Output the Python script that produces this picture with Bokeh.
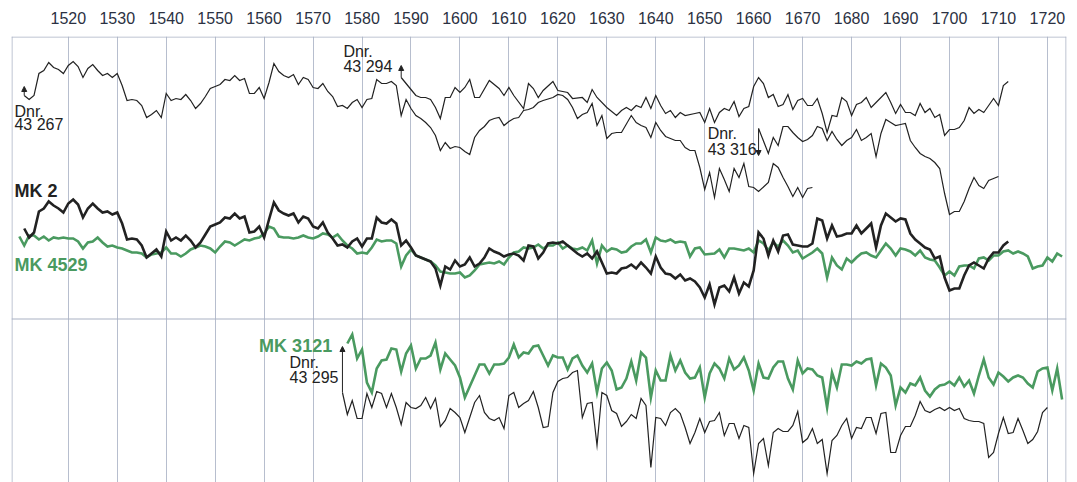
from bokeh.plotting import figure
from bokeh.models import Range1d, FixedTicker, Span, Label, Arrow, NormalHead
from bokeh.embed import file_html
from bokeh.resources import INLINE

# ------------------------------------------------------------------
# Data: (year, plotted value); the chart has no
# value axis, values are in chart units, increasing downward.
# ------------------------------------------------------------------
tick_years = list(range(1520, 1721, 10))

dnr_43267 = [
    (1511, 95), (1512, 99), (1513, 95), (1514, 73), (1515, 70), (1516, 62), (1517, 67), (1518, 69),
    (1519, 73), (1520, 65), (1521, 61), (1522, 66), (1523, 77), (1524, 68), (1525, 64), (1526, 70),
    (1527, 75), (1528, 73), (1529, 77), (1530, 73), (1531, 85), (1532, 100), (1533, 99), (1534, 100),
    (1535, 105), (1536, 117), (1537, 114), (1538, 110), (1539, 117), (1540, 93), (1541, 100), (1542, 98),
    (1543, 99), (1544, 94), (1545, 100), (1546, 108), (1547, 103), (1548, 96), (1549, 88), (1550, 86),
    (1551, 84), (1552, 79), (1553, 80), (1554, 75), (1555, 80), (1556, 78), (1557, 93), (1558, 93),
    (1559, 87), (1560, 98), (1561, 82), (1562, 63), (1563, 71), (1564, 75), (1565, 77), (1566, 74),
    (1567, 84), (1568, 77), (1569, 79), (1570, 87), (1571, 88), (1572, 83), (1573, 91), (1574, 96),
    (1575, 106), (1576, 105), (1577, 108), (1578, 102), (1579, 99), (1580, 107), (1581, 99), (1582, 98),
    (1583, 79), (1584, 83), (1585, 83), (1586, 81), (1587, 85), (1588, 115), (1589, 99), (1590, 108),
    (1591, 115), (1592, 118), (1593, 122), (1594, 127), (1595, 135), (1596, 150), (1597, 142), (1598, 148),
    (1599, 146), (1600, 147), (1601, 151), (1602, 154), (1603, 137), (1604, 130), (1605, 126), (1606, 120),
    (1607, 118), (1608, 117), (1609, 125), (1610, 121), (1611, 118), (1612, 117), (1613, 110), (1614, 109),
    (1615, 107), (1616, 102), (1617, 100), (1619, 97), (1620, 94), (1621, 95), (1622, 99), (1623, 107),
    (1624, 118), (1625, 114), (1626, 112), (1627, 103), (1628, 125), (1629, 115), (1630, 138), (1631, 133),
    (1632, 132), (1633, 132), (1635, 115), (1636, 122), (1637, 125), (1638, 127), (1639, 137), (1640, 122),
    (1641, 130), (1642, 136), (1643, 138), (1644, 140), (1645, 140), (1646, 147), (1647, 150), (1648, 150),
    (1649, 167), (1650, 189), (1651, 172), (1652, 197), (1653, 168), (1654, 179), (1655, 191), (1656, 168),
    (1657, 177), (1658, 163), (1659, 186), (1660, 187), (1661, 191), (1663, 182), (1664, 163), (1665, 167),
    (1666, 177), (1667, 186), (1668, 196), (1669, 187), (1670, 197), (1671, 188), (1672, 187),
]

dnr_43294 = [
    (1588, 77), (1590, 89), (1591, 95), (1592, 97), (1593, 97), (1594, 99), (1595, 107), (1596, 118),
    (1597, 97), (1598, 97), (1599, 87), (1600, 92), (1601, 87), (1602, 79), (1603, 97), (1604, 97),
    (1606, 80), (1608, 88), (1609, 95), (1610, 87), (1611, 95), (1613, 108), (1614, 83), (1615, 88),
    (1616, 97), (1617, 90), (1619, 81), (1620, 90), (1622, 92), (1623, 98), (1625, 97), (1626, 102),
    (1627, 89), (1628, 97), (1630, 107), (1632, 115), (1633, 110), (1634, 107), (1635, 110), (1636, 105),
    (1637, 107), (1638, 97), (1639, 108), (1640, 95), (1641, 105), (1642, 113), (1643, 110), (1644, 117),
    (1645, 112), (1646, 115), (1648, 113), (1649, 112), (1650, 122), (1651, 108), (1652, 122), (1653, 112),
    (1654, 108), (1655, 110), (1656, 101), (1657, 116), (1658, 108), (1659, 106), (1660, 86), (1661, 77),
    (1662, 83), (1663, 97), (1664, 94), (1665, 106), (1666, 104), (1667, 94), (1668, 109), (1669, 100),
    (1670, 98), (1671, 105), (1672, 105), (1673, 98), (1674, 113), (1675, 132), (1676, 115), (1677, 116),
    (1678, 97), (1679, 101), (1680, 115), (1681, 104), (1682, 102), (1683, 97), (1684, 107), (1685, 102),
    (1687, 92), (1688, 102), (1689, 113), (1690, 104), (1691, 112), (1692, 112), (1693, 115), (1694, 103),
    (1695, 112), (1696, 108), (1697, 117), (1698, 114), (1699, 135), (1700, 129), (1701, 129), (1702, 127),
    (1703, 120), (1704, 107), (1705, 113), (1706, 109), (1707, 112), (1708, 105), (1709, 98), (1710, 105),
    (1711, 85), (1712, 81),
]

dnr_43316 = [
    (1661, 128), (1663, 153), (1664, 137), (1665, 145), (1666, 126), (1667, 126), (1668, 132), (1669, 137),
    (1670, 141), (1671, 139), (1672, 135), (1673, 126), (1674, 128), (1675, 140), (1676, 131), (1677, 139),
    (1678, 145), (1679, 140), (1680, 137), (1681, 129), (1682, 140), (1683, 137), (1684, 133), (1685, 156),
    (1686, 133), (1687, 119), (1688, 122), (1689, 125), (1690, 124), (1691, 123), (1692, 140), (1693, 147),
    (1694, 153), (1695, 156), (1696, 158), (1697, 162), (1698, 168), (1699, 193), (1700, 214), (1701, 211),
    (1702, 211), (1703, 201), (1704, 188), (1705, 177), (1706, 185), (1707, 188), (1708, 180), (1709, 178),
    (1710, 176),
]

mk_2 = [
    (1511, 228), (1512, 237), (1513, 232), (1514, 211), (1515, 208), (1516, 201), (1517, 205), (1518, 208),
    (1519, 212), (1520, 203), (1521, 199), (1522, 204), (1523, 217), (1524, 208), (1525, 203), (1526, 208),
    (1527, 212), (1528, 211), (1529, 214), (1530, 212), (1531, 223), (1532, 239), (1533, 238), (1534, 239),
    (1535, 245), (1536, 257), (1537, 253), (1538, 249), (1539, 256), (1540, 231), (1541, 240), (1542, 237),
    (1543, 240), (1544, 235), (1545, 240), (1546, 247), (1547, 242), (1548, 234), (1549, 226), (1550, 224),
    (1551, 222), (1552, 217), (1553, 218), (1554, 213), (1555, 218), (1556, 216), (1557, 232), (1558, 231),
    (1559, 226), (1560, 237), (1561, 219), (1562, 202), (1563, 210), (1564, 213), (1565, 215), (1566, 213),
    (1567, 222), (1568, 216), (1569, 218), (1570, 226), (1571, 228), (1572, 222), (1573, 232), (1574, 238),
    (1575, 245), (1576, 244), (1577, 247), (1578, 241), (1579, 238), (1580, 246), (1581, 238), (1582, 238),
    (1583, 217), (1584, 222), (1585, 223), (1586, 219), (1587, 223), (1588, 245), (1589, 240), (1590, 247),
    (1591, 255), (1592, 257), (1593, 259), (1594, 261), (1595, 268), (1596, 285), (1597, 266), (1598, 269),
    (1599, 260), (1600, 266), (1601, 264), (1602, 257), (1603, 266), (1604, 263), (1605, 257), (1606, 248),
    (1607, 251), (1608, 253), (1609, 256), (1610, 254), (1611, 253), (1612, 255), (1613, 260), (1614, 245),
    (1615, 246), (1616, 258), (1617, 252), (1618, 243), (1619, 242), (1620, 243), (1621, 241), (1622, 245),
    (1623, 249), (1624, 253), (1625, 256), (1626, 253), (1627, 258), (1628, 251), (1629, 262), (1630, 273),
    (1631, 272), (1632, 273), (1633, 268), (1634, 267), (1635, 264), (1636, 268), (1637, 262), (1638, 267),
    (1639, 273), (1640, 256), (1641, 267), (1642, 273), (1643, 274), (1644, 278), (1645, 274), (1646, 280),
    (1647, 278), (1648, 281), (1649, 287), (1650, 297), (1651, 284), (1652, 304), (1653, 287), (1654, 285),
    (1655, 291), (1656, 277), (1657, 293), (1658, 282), (1659, 286), (1660, 270), (1661, 232), (1662, 238),
    (1663, 255), (1664, 240), (1665, 251), (1666, 235), (1667, 234), (1668, 244), (1669, 245), (1670, 246),
    (1671, 246), (1672, 243), (1673, 218), (1674, 220), (1675, 238), (1676, 225), (1677, 236), (1678, 235),
    (1679, 233), (1680, 233), (1681, 225), (1682, 233), (1683, 228), (1684, 223), (1685, 247), (1686, 225),
    (1687, 213), (1688, 217), (1689, 221), (1690, 218), (1691, 219), (1692, 233), (1693, 239), (1694, 243),
    (1695, 247), (1696, 249), (1697, 258), (1698, 256), (1699, 277), (1700, 290), (1701, 288), (1702, 288),
    (1703, 275), (1704, 265), (1705, 262), (1706, 265), (1707, 268), (1708, 258), (1709, 252), (1710, 252),
    (1711, 245), (1712, 241),
]

mk_4529 = [
    (1510, 236), (1511, 245), (1512, 235), (1513, 235), (1514, 239), (1515, 236), (1516, 240), (1517, 237),
    (1518, 238), (1519, 237), (1520, 238), (1521, 238), (1522, 241), (1523, 248), (1524, 242), (1525, 241),
    (1526, 237), (1527, 242), (1528, 246), (1529, 245), (1530, 247), (1531, 248), (1532, 250), (1533, 252),
    (1534, 252), (1535, 253), (1536, 257), (1537, 254), (1538, 253), (1539, 252), (1540, 247), (1541, 253),
    (1542, 253), (1543, 256), (1544, 253), (1545, 249), (1546, 247), (1547, 245), (1548, 246), (1549, 248),
    (1550, 252), (1551, 246), (1552, 241), (1553, 242), (1554, 245), (1555, 242), (1556, 239), (1557, 240),
    (1558, 238), (1559, 237), (1560, 233), (1561, 226), (1562, 228), (1563, 236), (1564, 237), (1565, 237),
    (1566, 238), (1567, 237), (1568, 235), (1569, 237), (1570, 238), (1571, 236), (1572, 233), (1573, 234),
    (1574, 237), (1575, 234), (1576, 240), (1577, 245), (1578, 248), (1579, 253), (1580, 252), (1581, 253),
    (1582, 247), (1583, 239), (1584, 241), (1585, 240), (1586, 240), (1587, 243), (1588, 266), (1589, 255),
    (1590, 249), (1591, 255), (1592, 257), (1593, 259), (1594, 261), (1595, 265), (1596, 271), (1597, 272),
    (1598, 273), (1599, 273), (1600, 272), (1601, 277), (1602, 275), (1603, 270), (1604, 264), (1605, 263),
    (1606, 262), (1607, 263), (1608, 261), (1609, 264), (1610, 257), (1611, 252), (1612, 251), (1613, 247),
    (1614, 248), (1615, 247), (1616, 244), (1617, 248), (1618, 245), (1619, 245), (1620, 242), (1621, 248),
    (1622, 245), (1623, 248), (1624, 249), (1625, 247), (1626, 250), (1627, 240), (1628, 263), (1629, 245),
    (1630, 251), (1631, 248), (1632, 249), (1633, 252), (1634, 251), (1635, 246), (1636, 243), (1637, 243),
    (1638, 239), (1639, 252), (1640, 237), (1641, 240), (1642, 241), (1643, 239), (1644, 242), (1645, 241),
    (1646, 242), (1647, 256), (1648, 248), (1649, 247), (1650, 254), (1652, 253), (1653, 249), (1654, 257),
    (1655, 248), (1656, 248), (1657, 249), (1658, 250), (1659, 248), (1660, 252), (1661, 240), (1662, 243),
    (1663, 250), (1664, 242), (1665, 246), (1666, 240), (1667, 245), (1668, 252), (1669, 250), (1670, 258),
    (1671, 255), (1672, 252), (1673, 248), (1674, 253), (1675, 277), (1676, 257), (1677, 265), (1678, 269),
    (1679, 258), (1680, 262), (1681, 257), (1682, 253), (1683, 252), (1684, 255), (1685, 257), (1686, 250),
    (1687, 243), (1688, 248), (1689, 255), (1690, 248), (1691, 249), (1692, 251), (1693, 255), (1694, 250),
    (1695, 257), (1696, 259), (1697, 260), (1698, 267), (1699, 275), (1700, 271), (1701, 275), (1702, 266),
    (1703, 265), (1704, 265), (1705, 268), (1706, 258), (1707, 257), (1708, 260), (1709, 255), (1710, 255),
    (1711, 251), (1712, 250), (1713, 253), (1714, 251), (1715, 253), (1716, 256), (1717, 268), (1718, 266),
    (1719, 265), (1720, 257), (1721, 261), (1722, 253), (1723, 256),
]

mk_3121 = [
    (1577, 343), (1578, 334), (1579, 358), (1580, 349), (1581, 382), (1582, 392), (1583, 368), (1584, 360),
    (1585, 359), (1586, 348), (1587, 349), (1588, 371), (1589, 353), (1590, 345), (1591, 368), (1592, 358),
    (1593, 358), (1594, 355), (1595, 342), (1596, 369), (1597, 353), (1598, 359), (1599, 365), (1600, 377),
    (1601, 397), (1602, 386), (1603, 375), (1604, 364), (1605, 364), (1606, 373), (1607, 364), (1608, 364),
    (1609, 363), (1610, 357), (1611, 344), (1612, 357), (1613, 352), (1614, 353), (1615, 346), (1616, 345),
    (1617, 355), (1618, 365), (1619, 355), (1620, 357), (1621, 357), (1622, 369), (1623, 358), (1624, 355),
    (1625, 365), (1626, 372), (1627, 363), (1628, 392), (1629, 368), (1630, 362), (1631, 370), (1632, 389),
    (1633, 387), (1634, 378), (1635, 361), (1636, 380), (1637, 352), (1638, 357), (1639, 397), (1640, 370),
    (1641, 380), (1642, 380), (1643, 355), (1644, 370), (1645, 360), (1646, 372), (1647, 378), (1648, 377),
    (1649, 367), (1650, 397), (1651, 373), (1652, 363), (1653, 368), (1654, 378), (1655, 358), (1656, 369),
    (1657, 365), (1658, 357), (1659, 370), (1660, 390), (1661, 363), (1662, 377), (1663, 378), (1664, 367),
    (1665, 361), (1666, 361), (1667, 378), (1668, 389), (1669, 360), (1670, 373), (1671, 368), (1672, 369),
    (1673, 375), (1674, 377), (1675, 407), (1676, 372), (1677, 387), (1678, 364), (1679, 364), (1680, 365),
    (1681, 361), (1682, 363), (1683, 359), (1684, 358), (1685, 385), (1686, 363), (1687, 367), (1688, 375),
    (1689, 405), (1690, 387), (1691, 392), (1692, 383), (1693, 385), (1694, 377), (1695, 390), (1696, 396),
    (1697, 389), (1698, 385), (1699, 384), (1700, 381), (1701, 385), (1702, 377), (1703, 386), (1704, 380),
    (1705, 393), (1706, 375), (1707, 359), (1708, 377), (1709, 384), (1710, 372), (1711, 376), (1712, 381),
    (1713, 377), (1714, 375), (1715, 377), (1716, 383), (1717, 387), (1718, 371), (1719, 368), (1720, 367),
    (1721, 390), (1722, 368), (1723, 399),
]

dnr_43295 = [
    (1576, 392), (1577, 414), (1578, 400), (1579, 418), (1580, 418), (1581, 393), (1582, 407), (1583, 391),
    (1584, 393), (1585, 407), (1586, 393), (1587, 407), (1588, 424), (1589, 402), (1590, 407), (1591, 408),
    (1592, 405), (1593, 397), (1594, 408), (1595, 398), (1596, 426), (1597, 420), (1598, 408), (1599, 412),
    (1600, 417), (1601, 432), (1602, 417), (1603, 402), (1604, 395), (1605, 412), (1606, 418), (1607, 420),
    (1608, 417), (1609, 428), (1610, 395), (1611, 392), (1612, 407), (1613, 403), (1614, 400), (1615, 391),
    (1616, 407), (1617, 427), (1618, 426), (1619, 392), (1620, 381), (1621, 378), (1622, 377), (1623, 372),
    (1624, 370), (1625, 417), (1626, 403), (1627, 402), (1628, 445), (1629, 392), (1630, 395), (1631, 410),
    (1632, 413), (1633, 426), (1634, 421), (1635, 414), (1636, 418), (1637, 398), (1638, 405), (1639, 467),
    (1640, 417), (1641, 418), (1642, 425), (1643, 412), (1644, 408), (1645, 413), (1646, 427), (1647, 443),
    (1648, 432), (1649, 418), (1650, 432), (1651, 421), (1652, 420), (1653, 412), (1654, 435), (1655, 423),
    (1656, 423), (1657, 438), (1658, 425), (1659, 427), (1660, 473), (1661, 443), (1662, 438), (1663, 465),
    (1664, 432), (1665, 428), (1666, 431), (1667, 431), (1668, 425), (1669, 411), (1670, 442), (1671, 438),
    (1672, 428), (1673, 443), (1674, 439), (1675, 473), (1676, 440), (1677, 435), (1678, 425), (1679, 418),
    (1680, 438), (1681, 427), (1682, 428), (1683, 417), (1684, 417), (1685, 433), (1686, 413), (1687, 412),
    (1688, 452), (1689, 452), (1690, 435), (1691, 426), (1692, 426), (1693, 415), (1694, 401), (1695, 410),
    (1696, 412), (1697, 409), (1698, 407), (1699, 410), (1700, 407), (1701, 410), (1702, 408), (1703, 418),
    (1704, 420), (1705, 421), (1706, 421), (1707, 423), (1708, 457), (1709, 452), (1710, 433), (1711, 417),
    (1712, 433), (1713, 432), (1714, 418), (1715, 430), (1716, 443), (1717, 439), (1718, 431), (1719, 412),
    (1720, 407),
]

# ------------------------------------------------------------------
BLACK = "#222222"
GREEN = "#4a9a60"
GRID = "#b7bece"
FRAME = "#a9b1c3"
TICK_TEXT = "#2b3142"
FONT = "Liberation Sans"

X0, X1 = 1508.4, 1723.9
Y_TOP, Y_BOTTOM = 36, 482

p = figure(width=1077, height=482, output_backend="svg", toolbar_location=None,
           x_range=Range1d(X0, X1), y_range=Range1d(Y_BOTTOM, Y_TOP),
           x_axis_location="above", y_axis_location=None,
           min_border_left=11, min_border_right=11, min_border_top=36, min_border_bottom=0)
p.outline_line_color = None
p.background_fill_color = "white"
p.border_fill_color = "white"

ticker = FixedTicker(ticks=tick_years)
ax = p.xaxis[0]
ax.ticker = ticker
ax.axis_line_color = None
ax.major_tick_line_color = None
ax.minor_tick_line_color = None
ax.major_label_text_font = FONT
ax.major_label_text_font_size = "16px"
ax.major_label_text_color = TICK_TEXT
ax.major_label_standoff = 7

p.xgrid.ticker = ticker
p.xgrid.grid_line_color = GRID
p.xgrid.grid_line_width = 1
p.ygrid.visible = False

# frame lines
for loc in (X0 + 0.1, X1 - 0.1):
    p.add_layout(Span(location=loc, dimension="height", line_color=FRAME, line_width=1))
p.add_layout(Span(location=Y_TOP + 0.5, dimension="width", line_color=FRAME, line_width=1))
p.add_layout(Span(location=318.5, dimension="width", line_color=FRAME, line_width=1))


def draw(series, color, width):
    xs = [a for a, _ in series]
    ys = [b for _, b in series]
    p.line(xs, ys, line_color=color, line_width=width, line_join="miter")


draw(dnr_43267, BLACK, 1.2)
draw(dnr_43294, BLACK, 1.2)
draw(dnr_43316, BLACK, 1.2)
draw(mk_4529, GREEN, 2.6)
draw(mk_2, BLACK, 2.6)
draw(mk_3121, GREEN, 2.6)
draw(dnr_43295, BLACK, 1.2)


def start_arrow(series, length, up=True):
    x0, y0 = series[0]
    y1 = y0 - length if up else y0 + length
    p.add_layout(Arrow(x_start=x0, y_start=y0, x_end=x0, y_end=y1, line_color=BLACK, line_width=1,
                       end=NormalHead(size=5, fill_color=BLACK, line_color=BLACK, line_width=1)))


start_arrow(dnr_43267, 9)
start_arrow(dnr_43294, 12)
start_arrow(dnr_43295, 46)
start_arrow(dnr_43316, 27, up=False)


def label(text, x, y, color=BLACK, bold=False, size="16px", align="left"):
    p.add_layout(Label(x=x, y=y, text=text, text_font=FONT, text_font_size=size,
                       text_color=color, text_font_style="bold" if bold else "normal",
                       text_align=align, text_baseline="alphabetic"))


label("Dnr.", 1509.0, 111)
label("43 267", 1509.0, 124)
label("Dnr.", 1576.2, 51)
label("43 294", 1576.2, 66)
label("Dnr.", 1650.6, 133)
label("43 316", 1650.6, 149)
label("Dnr.", 1565.2, 362)
label("43 295", 1565.2, 377)
label("MK 2", 1509.0, 190, bold=True, size="18px")
label("MK 4529", 1509.0, 264, color=GREEN, bold=True, size="18px")
label("MK 3121", 1573.9, 345, color=GREEN, bold=True, size="18px", align="right")

open("out.html", "w").write(file_html(p, INLINE))
